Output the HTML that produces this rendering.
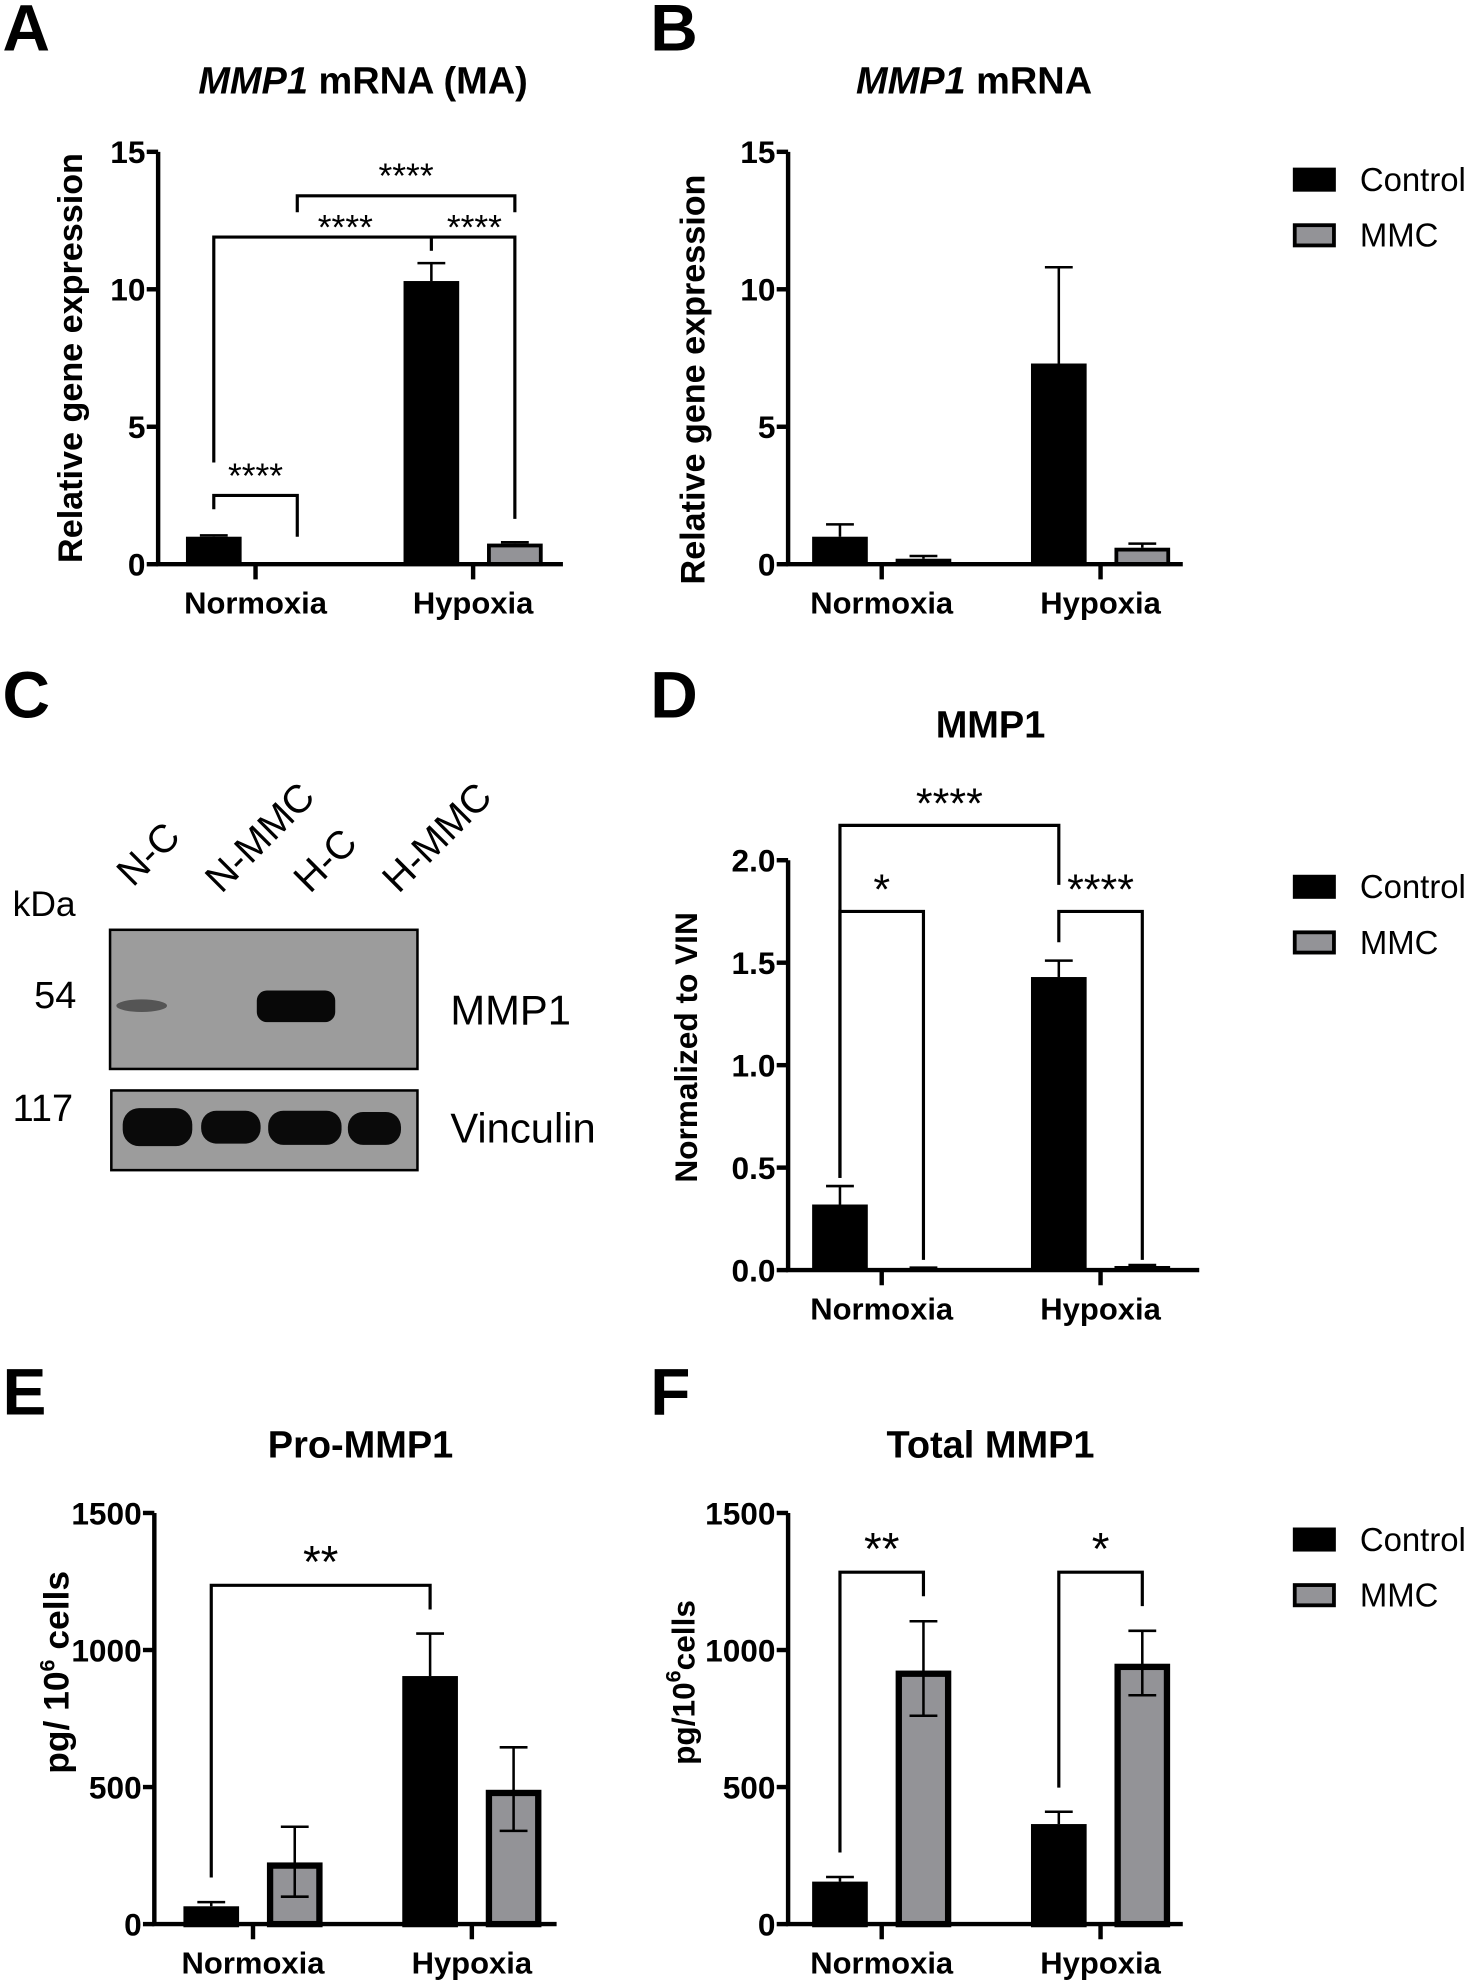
<!DOCTYPE html>
<html><head><meta charset="utf-8">
<style>
html,body{margin:0;padding:0;background:#fff;}
svg{display:block;}
text{font-family:"Liberation Sans",Arial,sans-serif;fill:#000;}
</style></head>
<body>
<svg id="fig" width="1475" height="1988" viewBox="0 0 1166 1571.5" xmlns="http://www.w3.org/2000/svg">
<g font-weight="bold" font-size="52">
<text x="2" y="40">A</text>
<text x="514" y="40">B</text>
<text x="2" y="567">C</text>
<text x="514" y="567">D</text>
<text x="2" y="1118">E</text>
<text x="514" y="1118">F</text>
</g>
<g id="blot">
<text x="10" y="724" font-size="28">kDa</text>
<text x="27" y="797" font-size="30">54</text>
<text x="10" y="886" font-size="30">117</text>
<text x="0" y="0" font-size="31" transform="translate(105,702) rotate(-45)">N-C</text>
<text x="0" y="0" font-size="31" transform="translate(175,707) rotate(-45)">N-MMC</text>
<text x="0" y="0" font-size="31" transform="translate(245,707) rotate(-45)">H-C</text>
<text x="0" y="0" font-size="31" transform="translate(315,707) rotate(-45)">H-MMC</text>
<rect x="87" y="735" width="243" height="110" fill="#9c9c9c" stroke="#000" stroke-width="2"/>
<ellipse cx="112" cy="795" rx="20" ry="5" fill="#555"/>
<rect x="203" y="783" width="62" height="25" rx="8" fill="#080808"/>
<rect x="88" y="862" width="242" height="63" fill="#9c9c9c" stroke="#000" stroke-width="2"/>
<rect x="97" y="876" width="55" height="30" rx="13" fill="#0a0a0a"/>
<rect x="159" y="878" width="47" height="26" rx="12" fill="#0a0a0a"/>
<rect x="212" y="878" width="58" height="27" rx="12" fill="#0a0a0a"/>
<rect x="275" y="879" width="42" height="26" rx="12" fill="#0a0a0a"/>
<text x="356" y="810" font-size="33">MMP1</text>
<text x="356" y="903" font-size="33">Vinculin</text>
</g>
</svg>
<script>
// ---- data ----
const categories = ["Normoxia", "Hypoxia"];
const seriesNames = ["Control", "MMC"];
// Panel A
const aControl = [1.0, 10.3];
const aControlErr = [1.05, 10.95];
const aMMC = [0.0, 0.75];
const aMMCErr = [0.0, 0.8];
const aTicks = ["0", "5", "10", "15"];
// Panel B
const bControl = [1.0, 7.3];
const bControlErr = [1.45, 10.8];
const bMMC = [0.2, 0.6];
const bMMCErr = [0.3, 0.75];
const bTicks = ["0", "5", "10", "15"];
// Panel D
const dControl = [0.32, 1.43];
const dControlErr = [0.41, 1.51];
const dMMC = [0.01, 0.02];
const dMMCErr = [0.012, 0.025];
const dTicks = ["0.0", "0.5", "1.0", "1.5", "2.0"];
// Panel E
const eControl = [65, 905];
const eControlErr = [80, 1060];
const eMMC = [225, 490];
const eMMCErrLow = [100, 340];
const eMMCErr = [355, 645];
const eTicks = ["0", "500", "1000", "1500"];
// Panel F
const fControl = [155, 365];
const fControlErr = [172, 410];
const fMMC = [925, 950];
const fMMCErrLow = [760, 835];
const fMMCErr = [1105, 1070];
const fTicks = ["0", "500", "1000", "1500"];
// brackets: [barFrom, barTo, barY, leftEnd, rightEnd, label]  (bars: 0 N-C,1 N-MMC,2 H-C,3 H-MMC)
const aBrackets = [[0,1,2.5,2.0,1.0,"****"],[0,3,11.9,3.7,1.65,""],[1,3,13.4,12.8,12.8,"****"]];
const dBrackets = [[0,2,2.17,0.45,1.88,"****"],[0,1,1.75,0.45,0.05,"*"],[2,3,1.75,1.6,0.05,"****"]];
const eBrackets = [[0,2,1236,170,1148,"**"]];
const fBrackets = [[0,1,1284,261,1196,"**"],[2,3,1284,498,1160,"*"]];

const NS = "http://www.w3.org/2000/svg";
const svg = document.getElementById("fig");
function mk(tag, attrs, parent){ const e=document.createElementNS(NS,tag); for(const k in attrs) e.setAttribute(k,attrs[k]); (parent||svg).appendChild(e); return e; }

function panel(p){
  const g = mk("g",{});
  
  
  const y = v => p.y0 - (v/p.max)*(p.y0-p.yTop);
  const tickVals = p.ticks.map(Number);
  const t = mk("text",{x:p.titleX,y:p.titleY,"font-size":30,"font-weight":"bold","text-anchor":"middle"},g);
  
  
  if(p.italic){ const s=mk("tspan",{"font-style":"italic"},t); s.textContent=p.italic; const s2=mk("tspan",{},t); s2.textContent=p.title; } else t.textContent=p.title;
  const yt = mk("text",{x:0,y:0,"font-size":p.ytSize||27,"font-weight":"bold","text-anchor":"middle",transform:`translate(${p.ytX},${p.ytY}) rotate(-90)`},g);
  
  
  if(p.ytSup){ const a=mk("tspan",{},yt); a.textContent=p.ytSup[0]; const b=mk("tspan",{dy:-11,"font-size":17},yt); b.textContent=p.ytSup[1]; const c=mk("tspan",{dy:11},yt); c.textContent=p.ytSup[2]; } else yt.textContent=p.yTitle;
  const sw = p.thick ? 5 : 3;
  const centers=[p.g[0]-33,p.g[0]+33,p.g[1]-33,p.g[1]+33];
  const vals=[p.c[0],p.m[0],p.c[1],p.m[1]];
  const errs=[p.ce[0],p.me[0],p.ce[1],p.me[1]];
  const lows=[null,p.ml?p.ml[0]:null,null,p.ml?p.ml[1]:null];
  for(let i=0;i<4;i++){
    const gray = i%2===1;
    const v=vals[i]; if(v<=0) continue;
    const w=44, x=centers[i]-w/2, top=y(v);
    const r=mk("rect",{x:x+sw/2,y:top+sw/2,width:w-sw,height:Math.max(0,p.y0-top-sw/2),fill:gray?"#939397":"#000",stroke:"#000","stroke-width":sw},g);
    
    
    const ey=y(errs[i]); const ly = lows[i]!==null ? y(lows[i]) : top;
    const eb=mk("path",{d:`M${centers[i]},${ly}V${ey}M${centers[i]-11},${ey}H${centers[i]+11}`+(lows[i]!==null?`M${centers[i]-11},${ly}H${centers[i]+11}`:""),stroke:"#000","stroke-width":2,fill:"none"},g);
    
    
  }
  const ax=mk("path",{d:`M${p.ax},${p.yTop}V${p.y0}H${p.axEnd}`,stroke:"#000","stroke-width":3.5,fill:"none"},g);
  
  
  tickVals.forEach((tv,i)=>{
    const ty=y(tv);
    const tk=mk("path",{d:`M${p.ax-9},${ty}H${p.ax}`,stroke:"#000","stroke-width":3.5},g);
    
    
    const tl=mk("text",{x:p.ax-10,y:ty+9,"font-size":25,"font-weight":"bold","text-anchor":"end"},g);
    
    
    tl.textContent=p.ticks[i];
  });
  categories.forEach((c,i)=>{
    const tk=mk("path",{d:`M${p.g[i]},${p.y0}V${p.y0+12}`,stroke:"#000","stroke-width":3.5},g);
    
    
    const tl=mk("text",{x:p.g[i],y:p.y0+39,"font-size":24.5,"font-weight":"bold","text-anchor":"middle"},g);
    
    
    tl.textContent=c;
  });
  p.br.forEach(b=>{
    const x1=centers[b[0]], x2=centers[b[1]], by=y(b[2]);
    const pa=mk("path",{d:`M${x1},${y(b[3])}V${by}H${x2}V${y(b[4])}`,stroke:"#000","stroke-width":2.5,fill:"none"},g);
    
    
    if(b[5]){
      const st=mk("text",{x:(x1+x2)/2,y:by-6,"font-size":p.starSize||28,"text-anchor":"middle"},g);
      
      
      st.textContent=b[5];
    }
  });
  if(p.extra) p.extra(g,y,centers);
  if(p.legY){
    seriesNames.forEach((s,i)=>{
      const ly=p.legY+i*44;
      const r=mk("rect",{x:1023.5,y:ly-8,width:31,height:16,fill:i?"#939397":"#000",stroke:"#000","stroke-width":3},g);
      
      
      const tx=mk("text",{x:1075,y:ly+9,"font-size":26},g);
      
      
      tx.textContent=s;
    });
  }
}

panel({name:"panel-a-chart",italic:"MMP1",title:" mRNA (MA)",titleX:287,titleY:74,yTitle:"Relative gene expression",ytX:65,ytY:283,
  ax:125,axEnd:445,yTop:120,y0:446,max:15,ticks:aTicks,g:[202,374],c:aControl,ce:aControlErr,m:aMMC,me:aMMCErr,br:aBrackets,
  extra:(g,y,c)=>{const p=mk("path",{d:`M${c[2]},${y(11.9)}V${y(11.4)}`,stroke:"#000","stroke-width":2.5},g);
    const s=mk("text",{x:273,y:y(11.9)+2,"font-size":28,"text-anchor":"middle"},g);s.textContent="****";
    const s2=mk("text",{x:375,y:y(11.9)+2,"font-size":28,"text-anchor":"middle"},g);s2.textContent="****";}});
panel({name:"panel-b-chart",italic:"MMP1",title:" mRNA",titleX:770,titleY:74,yTitle:"Relative gene expression",ytX:557,ytY:300,
  ax:623,axEnd:935,yTop:120,y0:446,max:15,ticks:bTicks,g:[697,870],c:bControl,ce:bControlErr,m:bMMC,me:bMMCErr,br:[],legY:142});
panel({name:"panel-d-chart",title:"MMP1",titleX:783,titleY:583,yTitle:"Normalized to VIN",ytX:551,ytY:828,ytSize:25,starSize:34,
  ax:623,axEnd:948,yTop:680,y0:1004,max:2,ticks:dTicks,g:[697,870],c:dControl,ce:dControlErr,m:dMMC,me:dMMCErr,br:dBrackets,legY:701});
panel({name:"panel-e-chart",title:"Pro-MMP1",titleX:285,titleY:1152,ytSup:["pg/ 10","6"," cells"],ytX:54,ytY:1322,ytSize:28,thick:true,starSize:36,
  ax:122,axEnd:440,yTop:1196,y0:1521,max:1500,ticks:eTicks,g:[200,373],c:eControl,ce:eControlErr,m:eMMC,me:eMMCErr,ml:eMMCErrLow,br:eBrackets});
panel({name:"panel-f-chart",title:"Total MMP1",titleX:783,titleY:1152,ytSup:["pg/10","6","cells"],ytX:549,ytY:1330,ytSize:25,thick:true,starSize:36,
  ax:623,axEnd:935,yTop:1196,y0:1521,max:1500,ticks:fTicks,g:[697,870],c:fControl,ce:fControlErr,m:fMMC,me:fMMCErr,ml:fMMCErrLow,br:fBrackets,legY:1217});
</script>
</body></html>
